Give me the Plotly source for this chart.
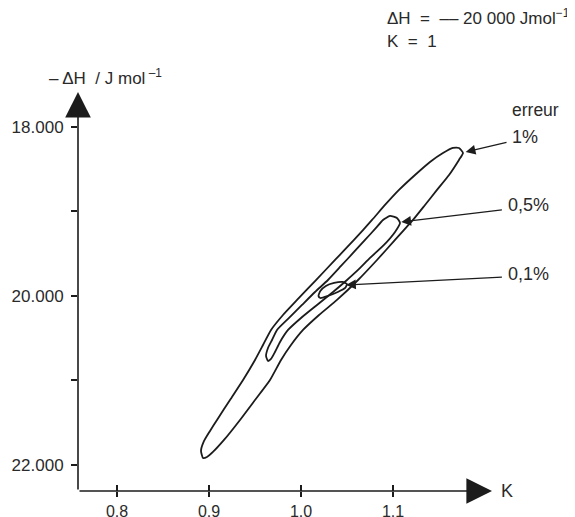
import plotly.graph_objects as go

# ---------------- data ----------------
K_ticks = [0.8, 0.9, 1.0, 1.1]
K_ticklabels = ["0.8", "0.9", "1.0", "1.1"]
H_ticks = [18000, 20000, 22000]
H_ticklabels = ["18.000", "20.000", "22.000"]
H_minor_ticks = [19000, 21000]

# 1 % error contour
outer_K = [0.9957, 1.0163, 1.0370, 1.0576, 1.0772, 1.0913, 1.1065, 1.1239, 1.1402, 1.1543,
           1.1652, 1.1717, 1.1761, 1.1717, 1.1609, 1.1478, 1.1348, 1.1217, 1.1022, 1.0826,
           1.0620, 1.0391, 1.0196, 1.0022, 0.9891, 0.9783, 0.9663, 0.9500, 0.9337, 0.9163,
           0.9043, 0.8978, 0.8935, 0.8913, 0.8946, 0.9011, 0.9087, 0.9228, 0.9370, 0.9500,
           0.9587, 0.9674, 0.9804]
outer_H = [20047, 19811, 19574, 19337, 19100, 18923, 18745, 18568, 18414, 18308,
           18248, 18248, 18308, 18390, 18568, 18745, 18923, 19100, 19337, 19574,
           19811, 20047, 20225, 20402, 20580, 20757, 20994, 21231, 21467, 21704,
           21846, 21905, 21917, 21834, 21716, 21597, 21467, 21231, 20994, 20757,
           20580, 20402, 20225]

# 0.5 % error contour
mid_K = [1.0011, 1.0152, 1.0293, 1.0435, 1.0576, 1.0696, 1.0815, 1.0891, 1.0967, 1.1043,
         1.1076, 1.1022, 1.0902, 1.0750, 1.0620, 1.0500, 1.0348, 1.0174, 1.0000, 0.9859,
         0.9772, 0.9717, 0.9674, 0.9641, 0.9620, 0.9641, 0.9685, 0.9739, 0.9870]
mid_H = [20106, 19953, 19811, 19645, 19479, 19337, 19195, 19100, 19053, 19077,
         19136, 19242, 19396, 19550, 19692, 19811, 19953, 20106, 20260, 20402,
         20544, 20663, 20745, 20769, 20710, 20615, 20521, 20402, 20260]

# 0.1 % error contour
inner_K = [1.027, 1.036, 1.045, 1.050, 1.048, 1.040, 1.029, 1.021, 1.019, 1.021]
inner_H = [19882, 19846, 19834, 19858, 19905, 19953, 20000, 20024, 20000, 19941]

err_labels = ["1%", "0,5%", "0,1%"]
arrow_tip_K = [1.179, 1.109, 1.049]
arrow_tip_H = [18296, 19124, 19870]
arrow_tail_K = [1.225, 1.220, 1.220]
arrow_tail_H = [18178, 18979, 19775]

# ---------------- layout constants ----------------
OFF = 8                      # default page margin of the html body
W, H = 575 - OFF, 517 - OFF  # figure size so that it fits the window
ML, MT = 78 - OFF, 92 - OFF
MR, MB = 83, 26
K_min, K_max = 0.7576, 1.2076
H_bottom, H_top = 22308, 17586

PW = W - ML - MR
PH = H - MT - MB


def PX(x):
    """window pixel x -> paper x"""
    return (x - OFF - ML) / PW


def PY(y):
    """window pixel y -> paper y"""
    return (H - MB - (y - OFF)) / PH


INK = "#1c1c1c"
TXT = "#2a2a2a"
FONT = "Liberation Sans, Arial, sans-serif"

fig = go.Figure()
for kk, hh in [(outer_K, outer_H), (mid_K, mid_H), (inner_K, inner_H)]:
    fig.add_trace(go.Scatter(
        x=kk + [kk[0]], y=hh + [hh[0]], mode="lines",
        line=dict(color=INK, width=1.8, shape="spline", smoothing=0.5),
        showlegend=False, hoverinfo="skip"))

# invisible trace on overlaying axis (inside half of the crossing x ticks)
fig.add_trace(go.Scatter(x=[K_min], y=[H_bottom], xaxis="x2", mode="markers",
                         marker=dict(opacity=0), showlegend=False, hoverinfo="skip"))

ann = []
# axes drawn as arrows
ann.append(dict(x=K_max, y=H_bottom, ax=K_min, ay=H_bottom, xref="x", yref="y",
                axref="x", ayref="y", text="", showarrow=True, arrowhead=2,
                arrowsize=3.2, arrowwidth=1.6, arrowcolor=INK, standoff=0))
ann.append(dict(x=K_min, y=H_top, ax=K_min, ay=H_bottom, xref="x", yref="y",
                axref="x", ayref="y", text="", showarrow=True, arrowhead=2,
                arrowsize=3.2, arrowwidth=1.6, arrowcolor=INK, standoff=0))

# error arrows
for i in range(3):
    ann.append(dict(x=arrow_tip_K[i], y=arrow_tip_H[i], ax=arrow_tail_K[i], ay=arrow_tail_H[i],
                    xref="x", yref="y", axref="x", ayref="y", text="", showarrow=True,
                    arrowhead=2, arrowsize=1.5, arrowwidth=1.3, arrowcolor=INK, standoff=0))

label_pos = [(510, 137), (506, 205), (506, 274)]
for lab, (lx, ly) in zip(err_labels, label_pos):
    ann.append(dict(x=PX(lx), y=PY(ly), xref="paper", yref="paper", text=lab,
                    showarrow=False, xanchor="left", yanchor="middle",
                    font=dict(size=18, color=TXT, family=FONT)))

ann.append(dict(x=PX(510), y=PY(110), xref="paper", yref="paper", text="erreur",
                showarrow=False, xanchor="left", yanchor="middle",
                font=dict(size=17.5, color=TXT, family=FONT)))
ann.append(dict(x=PX(385), y=PY(17), xref="paper", yref="paper",
                text="ΔH  =  –– 20 000 Jmol<sup>−1</sup>",
                showarrow=False, xanchor="left", yanchor="middle",
                font=dict(size=17, color=TXT, family=FONT)))
ann.append(dict(x=PX(385), y=PY(42), xref="paper", yref="paper", text="K  =  1",
                showarrow=False, xanchor="left", yanchor="middle",
                font=dict(size=17, color=TXT, family=FONT)))
ann.append(dict(x=PX(47), y=PY(77), xref="paper", yref="paper",
                text="– ΔH  / J mol<sup> –1</sup>",
                showarrow=False, xanchor="left", yanchor="middle",
                font=dict(size=17, color=TXT, family=FONT)))
ann.append(dict(x=PX(499), y=PY(491), xref="paper", yref="paper", text="K",
                showarrow=False, xanchor="left", yanchor="middle",
                font=dict(size=18, color=TXT, family=FONT)))

fig.update_layout(
    width=W, height=H,
    margin=dict(l=ML, r=MR, t=MT, b=MB, pad=0, autoexpand=False),
    paper_bgcolor="white", plot_bgcolor="white",
    xaxis=dict(range=[K_min, K_max], tickmode="array", tickvals=K_ticks,
               ticktext=K_ticklabels, ticks="outside", ticklen=5, tickwidth=1.5,
               tickcolor=INK, showgrid=False, zeroline=False, showline=False,
               automargin=False, ticklabelstandoff=1,
               tickfont=dict(size=16, color=TXT, family=FONT)),
    xaxis2=dict(range=[K_min, K_max], overlaying="x", side="bottom", anchor="y",
                tickmode="array", tickvals=K_ticks, ticks="inside", ticklen=6,
                tickwidth=1.5, tickcolor=INK, showticklabels=False, showgrid=False,
                zeroline=False, showline=False, automargin=False),
    yaxis=dict(range=[H_bottom, H_top], tickmode="array", tickvals=H_ticks,
               ticktext=H_ticklabels, ticks="outside", ticklen=6, tickwidth=1.5,
               tickcolor=INK, showgrid=False, zeroline=False, showline=False,
               automargin=False, ticklabelstandoff=4,
               minor=dict(tickmode="array", tickvals=H_minor_ticks, ticks="outside",
                          ticklen=6, tickwidth=1.5, tickcolor=INK, showgrid=False),
               tickfont=dict(size=17, color=TXT, family=FONT)),
    annotations=ann,
)

fig.write_html("out.html")
